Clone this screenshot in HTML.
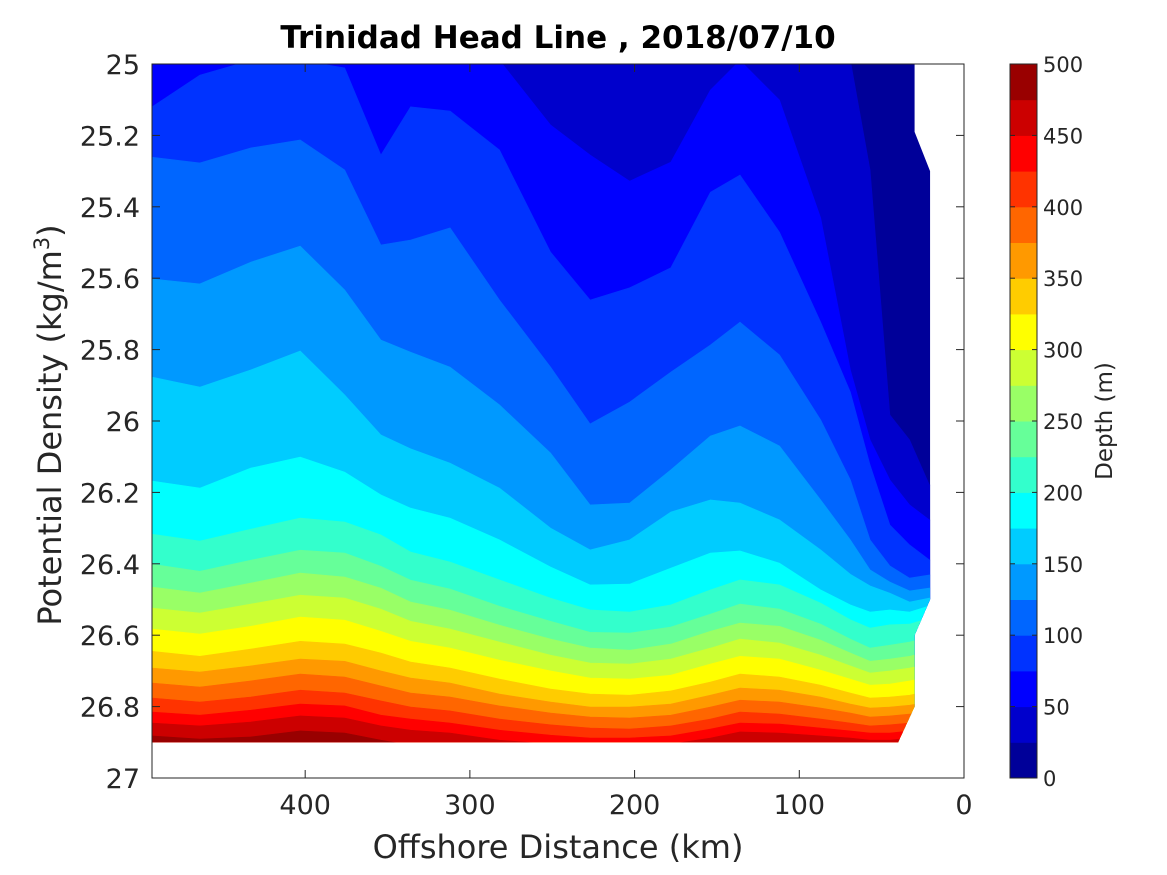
<!DOCTYPE html>
<html><head><meta charset="utf-8"><style>
html,body{margin:0;padding:0;background:#fff;}
svg{display:block;font-family:"DejaVu Sans","Liberation Sans",sans-serif;}
</style></head><body>
<svg id="chart" width="1167" height="875" viewBox="0 0 1167 875">
<defs><clipPath id="dataClip"><polygon id="clipPoly"/></clipPath></defs>
<text x="558" y="48" text-anchor="middle" font-size="31" font-weight="bold" fill="#000">Trinidad Head Line , 2018/07/10</text>
<g id="fills" clip-path="url(#dataClip)"></g>
<g id="axes"></g>
<text x="558" y="858" text-anchor="middle" font-size="32" fill="#262626">Offshore Distance (km)</text>
<text transform="translate(61,425) rotate(-90)" text-anchor="middle" font-size="32" fill="#262626">Potential Density (kg/m<tspan dy="-12" font-size="21">3</tspan><tspan dy="12">)</tspan></text>
<g id="cbar"></g>
<text transform="translate(1112,421) rotate(-90)" text-anchor="middle" font-size="23" fill="#262626">Depth (m)</text>
</svg>
<script>
// station offshore distances (km)
const stationKm = [493,464,433,403,376,354,336,312,282,251,227,203,178,154,136,112,87,69,57,45,33,21];
// contour depth levels (m)
const contourLevels = [25,50,75,100,125,150,175,200,225,250,275,300,325,350,375,400,425,450,475];
// potential density at which each depth contour sits, per station
const c25  = [24.98,24.98,24.98,24.98,24.98,24.98,24.98,24.98,24.98,24.98,24.98,24.98,24.98,24.98,24.98,24.98,24.98,24.98,25.297,25.983,26.053,26.179];
const c50  = [24.98,24.98,24.98,24.98,24.98,24.98,24.98,24.98,24.98,25.171,25.255,25.328,25.275,25.073,24.98,25.101,25.431,25.857,26.053,26.165,26.235,26.277];
const c75  = [25.120,25.031,24.98,24.98,25.011,25.255,25.120,25.132,25.241,25.527,25.661,25.627,25.571,25.359,25.311,25.471,25.723,25.919,26.123,26.291,26.347,26.389];
const c100 = [25.261,25.277,25.235,25.213,25.297,25.507,25.493,25.459,25.661,25.849,26.008,25.947,25.863,25.787,25.723,25.815,25.997,26.165,26.333,26.406,26.440,26.431];
const c125 = [25.602,25.616,25.555,25.510,25.633,25.773,25.807,25.849,25.955,26.090,26.235,26.230,26.137,26.042,26.014,26.070,26.221,26.333,26.417,26.451,26.476,26.468];
const c150 = [25.877,25.905,25.857,25.804,25.927,26.039,26.078,26.118,26.188,26.300,26.361,26.333,26.255,26.221,26.230,26.277,26.361,26.429,26.462,26.482,26.507,26.496];
const c175 = [26.168,26.188,26.132,26.101,26.143,26.207,26.244,26.272,26.333,26.409,26.459,26.457,26.412,26.370,26.364,26.398,26.473,26.515,26.535,26.529,26.535,26.518];
const c200 = [26.317,26.336,26.303,26.272,26.283,26.319,26.367,26.395,26.445,26.496,26.529,26.535,26.515,26.473,26.445,26.459,26.510,26.557,26.580,26.571,26.569,26.552];
const c225 = [26.401,26.421,26.390,26.362,26.370,26.407,26.446,26.471,26.519,26.561,26.592,26.594,26.577,26.541,26.513,26.527,26.569,26.611,26.636,26.628,26.619,26.605];
const c250 = [26.465,26.482,26.454,26.426,26.437,26.468,26.507,26.530,26.572,26.611,26.636,26.642,26.625,26.589,26.566,26.575,26.614,26.650,26.673,26.667,26.659,26.645];
const c275 = [26.524,26.538,26.513,26.488,26.496,26.527,26.561,26.583,26.619,26.656,26.678,26.681,26.667,26.636,26.611,26.622,26.656,26.686,26.706,26.700,26.692,26.681];
const c300 = [26.583,26.597,26.575,26.549,26.558,26.589,26.617,26.636,26.670,26.700,26.720,26.723,26.712,26.681,26.659,26.667,26.698,26.723,26.740,26.737,26.728,26.717];
const c325 = [26.645,26.659,26.639,26.617,26.625,26.650,26.675,26.692,26.723,26.751,26.765,26.768,26.756,26.731,26.709,26.717,26.740,26.762,26.776,26.773,26.768,26.756];
const c350 = [26.692,26.703,26.686,26.667,26.673,26.700,26.720,26.734,26.765,26.787,26.801,26.801,26.793,26.768,26.748,26.754,26.773,26.793,26.804,26.801,26.796,26.787];
const c375 = [26.734,26.745,26.728,26.709,26.717,26.742,26.762,26.773,26.798,26.818,26.829,26.832,26.824,26.801,26.782,26.787,26.804,26.818,26.829,26.826,26.821,26.812];
const c400 = [26.776,26.787,26.773,26.754,26.762,26.784,26.801,26.812,26.835,26.851,26.860,26.863,26.854,26.835,26.815,26.821,26.835,26.846,26.854,26.851,26.846,26.840];
const c425 = [26.815,26.824,26.810,26.793,26.798,26.824,26.835,26.846,26.866,26.880,26.888,26.888,26.882,26.863,26.846,26.849,26.860,26.868,26.874,26.874,26.868,26.863];
const c450 = [26.846,26.854,26.843,26.826,26.832,26.854,26.866,26.874,26.894,26.905,26.910,26.910,26.905,26.888,26.871,26.874,26.882,26.888,26.894,26.894,26.888,26.882];
const c475 = [26.882,26.891,26.885,26.868,26.874,26.894,26.908,26.910,26.916,26.922,26.922,26.922,26.922,26.916,26.908,26.908,26.910,26.916,26.922,26.922,26.916,26.910];
// data coverage boundary on the inshore side
const edgeDens = [25.0,25.19,25.30,26.50,26.60,26.80,26.90];
const edgeKm   = [30,30,20.6,20.6,30,30,40];
const bottomDens = 26.9;
// axis ticks
const yTicks = [25,25.2,25.4,25.6,25.8,26,26.2,26.4,26.6,26.8,27];
const yTickLabels = ["25","25.2","25.4","25.6","25.8","26","26.2","26.4","26.6","26.8","27"];
const xTicks = [400,300,200,100,0];
const xTickLabels = ["400","300","200","100","0"];
const cbarTicks = [0,50,100,150,200,250,300,350,400,450,500];
const cbarLabels = ["0","50","100","150","200","250","300","350","400","450","500"];
const jet = ["#000099","#0000cc","#0000ff","#0033ff","#0066ff","#0099ff","#00ccff","#00ffff","#33ffcc","#66ff99","#99ff66","#ccff33","#ffff00","#ffcc00","#ff9900","#ff6600","#ff3300","#ff0000","#cc0000","#990000"];

const contours = [c25,c50,c75,c100,c125,c150,c175,c200,c225,c250,c275,c300,c325,c350,c375,c400,c425,c450,c475];
const PL=152, PR=964, PT=64, PB=778, XMAX=493, YMIN=25, YMAX=27;
const xS = km => PR - km/XMAX*(PR-PL);
const yS = d => PT + (d-YMIN)/(YMAX-YMIN)*(PB-PT);
const NS='http://www.w3.org/2000/svg';
function mk(tag, attrs, parent){const e=document.createElementNS(NS,tag);for(const k in attrs)e.setAttribute(k,attrs[k]);parent.appendChild(e);return e;}

let cp=[[xS(XMAX),yS(YMIN)]];
for(let i=0;i<edgeDens.length;i++) cp.push([xS(edgeKm[i]),yS(edgeDens[i])]);
cp.push([xS(XMAX),yS(bottomDens)]);
document.getElementById('clipPoly').setAttribute('points',cp.map(p=>p.join(',')).join(' '));

const fills=document.getElementById('fills');
const base=mk('rect',{x:PL,y:PT,width:PR-PL,height:PB-PT,fill:jet[0]},fills);


contours.forEach((arr,k)=>{
  const pts=stationKm.map((km,i)=>[xS(km),yS(Math.max(24.99,Math.min(26.95,arr[i])))]);
  const last=pts[pts.length-1];
  pts.push([PR,last[1]],[PR,PB],[PL-2,PB],[PL-2,pts[0][1]]);
  const p=mk('polygon',{points:pts.map(q=>q[0].toFixed(1)+','+q[1].toFixed(1)).join(' '),fill:jet[k+1],stroke:jet[k+1],'stroke-width':0.6},fills);
  
  
});

const ax=document.getElementById('axes');
const box=mk('rect',{x:PL,y:PT,width:PR-PL,height:PB-PT,fill:'none',stroke:'#262626','stroke-width':1},ax);


yTicks.forEach((t,i)=>{
  const y=yS(t);
  mk('line',{x1:PL,x2:PL+8,y1:y,y2:y,stroke:'#262626'},ax);
  mk('line',{x1:PR,x2:PR-8,y1:y,y2:y,stroke:'#262626'},ax);
  const tx=mk('text',{x:PL-12,y:y+10,'text-anchor':'end','font-size':27,fill:'#262626'},ax);
  tx.textContent=yTickLabels[i];
  
  
});
xTicks.forEach((t,i)=>{
  const x=xS(t);
  mk('line',{x1:x,x2:x,y1:PB,y2:PB-8,stroke:'#262626'},ax);
  mk('line',{x1:x,x2:x,y1:PT,y2:PT+8,stroke:'#262626'},ax);
  const tx=mk('text',{x:x,y:PB+36,'text-anchor':'middle','font-size':27,fill:'#262626'},ax);
  tx.textContent=xTickLabels[i];
  
  
});

const cb=document.getElementById('cbar');
const CL=1010, CR=1037;
const cS = v => PB - v/500*(PB-PT);
jet.forEach((c,i)=>{
  const r=mk('rect',{x:CL,y:cS((i+1)*25),width:CR-CL,height:cS(i*25)-cS((i+1)*25)+0.5,fill:c},cb);
  
  
});
mk('rect',{x:CL,y:PT,width:CR-CL,height:PB-PT,fill:'none',stroke:'#262626'},cb);
cbarTicks.forEach((t,i)=>{
  const y=cS(t);
  mk('line',{x1:CL,x2:CL+5,y1:y,y2:y,stroke:'#262626'},cb);
  mk('line',{x1:CR,x2:CR-5,y1:y,y2:y,stroke:'#262626'},cb);
  const tx=mk('text',{x:CR+6,y:y+8,'font-size':21,fill:'#262626'},cb);
  tx.textContent=cbarLabels[i];
  
  
});
</script>
</body></html>
